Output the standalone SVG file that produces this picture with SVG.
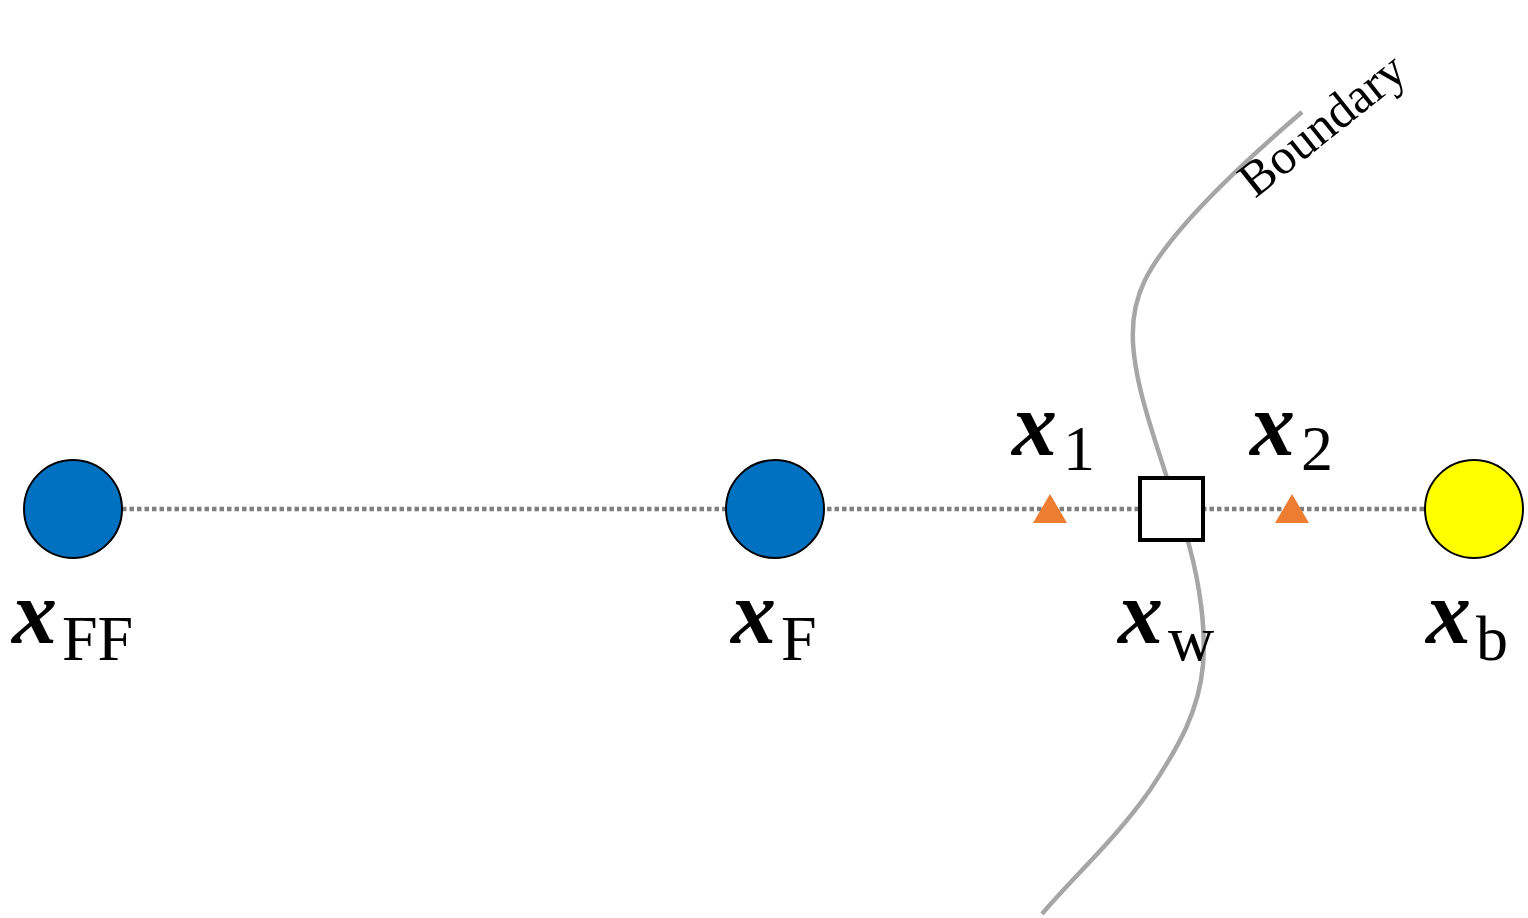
<svg xmlns="http://www.w3.org/2000/svg" width="1528" height="918" viewBox="0 0 1528 918">
<style>
.conn{stroke:#7f7f7f;stroke-width:4.5;stroke-dasharray:4.5 3;fill:none}
.bd{stroke:#a6a6a6;stroke-width:4.5;fill:none}
.circ{stroke:#000;stroke-width:2}
.tri{fill:#ed7d31}
.mx{font-family:"Liberation Serif","DejaVu Serif",serif;font-style:italic;font-weight:bold;font-size:90px;fill:#000}
.sub{font-family:"Liberation Serif","DejaVu Serif",serif;font-size:64px;fill:#000}
.lbl{font-family:"Liberation Serif","DejaVu Serif",serif;font-size:50px;fill:#000}
</style>
<rect width="1528" height="918" fill="#fff"/>
<g id="boundary">
<path class="bd" d="M1302,112 C1240,165 1170,230 1145,280 C1128,315 1130,350 1143,400 C1155,445 1175,500 1189,545 C1200,585 1206,630 1203,665 C1199,710 1180,745 1150,790 C1115,840 1075,875 1042,914"/>
<text class="lbl" transform="translate(1255,199) rotate(-38.5)">Boundary</text>
</g>
<g id="connectors">
<line class="conn" x1="122" y1="509" x2="1425" y2="509"/>
</g>
<g id="xFF">
<circle class="circ" cx="73" cy="509" r="49" fill="#0070c0"/>
<text x="12" y="643"><tspan class="mx">x</tspan><tspan class="sub" dx="5" dy="17">FF</tspan></text>
</g>
<g id="xF">
<circle class="circ" cx="775" cy="509" r="49" fill="#0070c0"/>
<text x="731" y="643"><tspan class="mx">x</tspan><tspan class="sub" dx="5" dy="17">F</tspan></text>
</g>
<g id="x1">
<polygon class="tri" points="1050,494 1067,523 1033,523"/>
<text x="1012" y="455"><tspan class="mx">x</tspan><tspan class="sub" dx="6" dy="15">1</tspan></text>
</g>
<g id="xw">
<rect x="1140" y="478" width="63" height="62" fill="#fff" stroke="#000" stroke-width="4"/>
<text x="1118" y="643"><tspan class="mx">x</tspan><tspan class="sub" dx="5" dy="17">w</tspan></text>
</g>
<g id="x2">
<polygon class="tri" points="1292,494 1309,523 1275,523"/>
<text x="1250" y="455"><tspan class="mx">x</tspan><tspan class="sub" dx="6" dy="15">2</tspan></text>
</g>
<g id="xb">
<circle class="circ" cx="1474" cy="509" r="49" fill="#ffff00"/>
<text x="1426" y="643"><tspan class="mx">x</tspan><tspan class="sub" dx="5" dy="17">b</tspan></text>
</g>
</svg>
